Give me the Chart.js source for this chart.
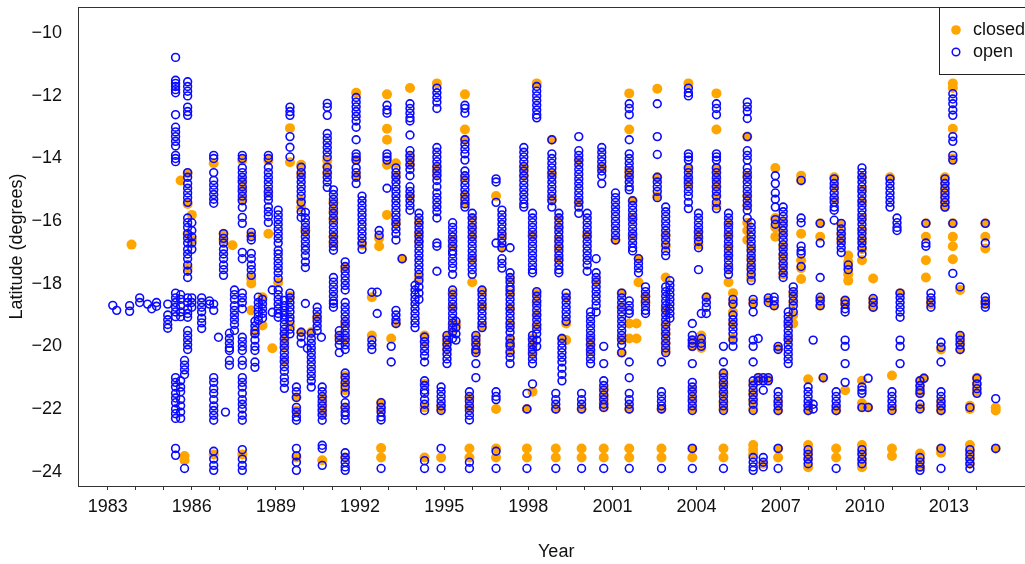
<!DOCTYPE html>
<html lang="en">
<head>
<meta charset="UTF-8">
<title>Latitude by year</title>
<style>
    html, body { margin: 0; padding: 0; background: #fff; overflow: hidden; }
    #wrap { position: relative; width: 1025px; height: 564px; overflow: hidden; }
    canvas { display: block; }
</style>
<script src="https://cdn.jsdelivr.net/npm/chart.js@4/dist/chart.umd.min.js"></script>
</head>
<body>
<div id="wrap"><canvas id="lat-chart" width="1040" height="564"></canvas></div>
<script>
// survey columns (decimal year) and latitudes
const colYear = [
  1983.18, 1983.32, 1983.78, 1983.85, 1984.14, 1984.42, 1984.57, 1984.74, 1985.14, 1985.42,
  1985.6, 1985.74, 1985.85, 1986.0, 1986.35, 1986.63, 1986.78, 1986.95, 1987.13, 1987.2,
  1987.34, 1987.45, 1987.52, 1987.8, 1988.12, 1988.25, 1988.37, 1988.52, 1988.73, 1988.87,
  1989.08, 1989.3, 1989.5, 1989.73, 1989.9, 1990.05, 1990.12, 1990.26, 1990.47, 1990.62,
  1990.65, 1990.83, 1991.05, 1991.26, 1991.47, 1991.86, 1992.07, 1992.42, 1992.61, 1992.68,
  1992.75, 1992.96, 1993.11, 1993.28, 1993.5, 1993.78, 1993.96, 1994.1, 1994.3, 1994.74,
  1994.89, 1995.1, 1995.3, 1995.42, 1995.74, 1995.9, 1996.0, 1996.13, 1996.35, 1996.85,
  1997.06, 1997.35, 1997.84, 1997.95, 1998.15, 1998.3, 1998.84, 1998.98, 1999.09, 1999.2,
  1999.35, 1999.8, 1999.9, 2000.1, 2000.22, 2000.42, 2000.62, 2000.69, 2001.11, 2001.33,
  2001.6, 2001.72, 2001.86, 2001.93, 2002.18, 2002.6, 2002.75, 2002.9, 2003.05, 2003.71,
  2003.85, 2004.07, 2004.17, 2004.35, 2004.71, 2004.96, 2005.14, 2005.3, 2005.81, 2005.95,
  2006.02, 2006.2, 2006.38, 2006.56, 2006.77, 2006.81, 2006.91, 2007.09, 2007.27, 2007.45,
  2007.73, 2007.98, 2008.16, 2008.41, 2008.52, 2008.91, 2008.98, 2009.16, 2009.3, 2009.41,
  2009.9, 2010.12, 2010.3, 2010.9, 2010.97, 2011.15, 2011.26, 2011.97, 2012.11, 2012.18,
  2012.36, 2012.72, 2012.86, 2013.14, 2013.4, 2013.75, 2014.0, 2014.3, 2014.67
];

const openLat = [
  [-18.69], [-18.85], [-18.7, -18.88], [], [-18.45, -18.6], [-18.65], [-18.8], [-18.6, -18.72],
  [-18.65, -19.0, -19.15, -19.3, -19.42],
  [-10.77, -11.5, -11.6, -11.7, -11.8, -11.9, -12.6, -13.0, -13.15, -13.3, -13.45, -13.6, -13.9, -14.0, -14.1, -18.3, -18.45, -18.6, -18.75, -18.9, -19.05, -21.0, -21.15, -21.3, -21.5, -21.65, -21.8, -22.0, -22.15, -22.3, -23.26, -23.48],
  [-18.35, -18.5, -18.7, -18.9, -19.05, -21.1, -21.3, -21.45, -21.7, -21.9, -22.1, -22.3],
  [-20.45, -20.6, -20.75, -20.9, -23.9],
  [-11.55, -11.7, -11.85, -12.0, -12.36, -12.5, -12.62, -14.45, -14.6, -14.8, -14.95, -15.1, -15.25, -15.4, -15.9, -16.05, -16.2, -16.4, -16.55, -16.7, -16.9, -17.05, -17.2, -17.4, -17.6, -17.8, -18.45, -18.6, -18.8, -18.95, -19.07, -19.5, -19.65, -19.8, -19.95, -20.1],
  [-16.05, -16.3, -16.5, -16.7, -16.9, -18.45, -18.6, -18.75],
  [-18.45, -18.6, -18.75, -18.9, -19.1, -19.25, -19.43],
  [-18.55, -18.65],
  [-13.9, -14.0, -14.45, -14.7, -14.85, -15.0, -15.15, -15.3, -15.43, -18.65, -18.85, -21.0, -21.15, -21.35, -21.5, -21.7, -21.9, -22.05, -22.2, -22.36, -23.35, -23.6, -23.8, -23.96],
  [-19.71],
  [-16.4, -16.55, -16.7, -16.9, -17.05, -17.2, -17.4, -17.55, -17.73],
  [-22.1],
  [-19.58, -19.75, -19.9, -20.05, -20.13, -20.45, -20.6],
  [],
  [-18.2, -18.35, -18.5, -18.7, -18.85, -19.0, -19.15, -19.3, -19.49],
  [-13.9, -14.0, -14.3, -14.45, -14.6, -14.75, -14.9, -15.05, -15.2, -15.35, -15.56, -15.88, -16.07, -17.0, -17.2, -18.3, -18.45, -18.6, -18.8, -19.71, -19.85, -20.0, -20.13, -20.45, -20.6, -21.0, -21.15, -21.3, -21.5, -21.7, -21.85, -22.0, -22.2, -22.36, -23.3, -23.6, -23.8, -23.96],
  [-16.36, -16.5, -16.6, -17.03, -17.2, -17.4, -17.55, -17.73],
  [-19.2, -19.35, -19.49, -19.6, -19.8, -20.0, -20.13, -20.5, -20.67],
  [-18.43, -18.6, -18.75, -18.9, -19.05, -19.17],
  [-18.5, -18.65, -18.8, -18.95, -19.1],
  [-13.9, -14.0, -14.28, -14.45, -14.6, -14.75, -14.9, -15.05, -15.2, -15.33, -15.55, -15.7, -15.85, -16.04],
  [-18.2, -18.91],
  [-15.65, -15.8, -15.95, -16.1, -16.25, -16.4, -16.55, -16.7, -16.93, -17.05, -17.2, -17.35, -17.5, -17.65, -17.83, -18.2, -18.35, -18.5, -18.65, -18.8, -18.95, -19.07],
  [-18.53, -18.7, -18.85, -19.0, -19.15, -19.3, -19.45, -19.6, -19.75, -19.9, -20.05, -20.2, -20.35, -20.5, -20.65, -20.8, -21.0, -21.15, -21.34],
  [-12.36, -12.5, -12.62, -13.3, -13.64, -13.95, -18.3, -18.45, -18.6, -18.75, -18.9, -19.07, -19.2, -19.45, -19.6],
  [-21.3, -21.45, -21.63, -21.95, -22.1, -22.25, -22.36, -23.26, -23.5, -23.7, -23.96],
  [-14.28, -14.45, -14.6, -14.75, -14.9, -15.05, -15.2, -15.4, -15.7, -15.88, -19.55, -19.7, -19.9],
  [-15.72, -15.9, -16.05, -16.2, -16.35, -16.5, -16.65, -16.8, -16.93, -17.1, -17.3, -17.48, -18.63],
  [-20.06],
  [-19.58, -19.75, -19.9, -20.05, -20.2, -20.35, -20.5, -20.65, -20.8, -20.95, -21.1, -21.3],
  [-18.75, -18.9, -19.05, -19.2, -19.35, -19.49],
  [-19.71],
  [-21.3, -21.45, -21.6, -21.75, -21.9, -22.05, -22.2, -22.36, -23.16, -23.26, -23.8],
  [-12.24, -12.36, -12.62, -13.2, -13.35, -13.5, -13.65, -13.8, -13.95, -14.28, -14.45, -14.6, -14.75, -14.92],
  [-15.0, -15.15, -15.3, -15.45, -15.6, -15.75, -15.9, -16.05, -16.2, -16.35, -16.5, -16.65, -16.8, -16.93, -17.8, -17.95, -18.1, -18.25, -18.4, -18.55, -18.63, -18.75],
  [-19.5, -19.65, -19.8, -19.95, -20.2],
  [-17.3, -17.45, -17.6, -17.75, -17.9, -18.05, -18.2, -18.6, -18.75, -18.9, -19.05, -19.2, -19.35, -19.5, -19.65, -19.8, -19.95, -20.1, -20.85, -21.0, -21.15, -21.3, -21.5, -21.8, -21.95, -22.1, -22.2, -22.35, -23.4, -23.55, -23.7, -23.85, -23.96],
  [-12.05, -12.2, -12.35, -12.5, -12.65, -12.8, -13.0, -13.4, -13.85, -13.95, -14.05, -14.3, -14.45, -14.6, -14.8],
  [-15.2, -15.35, -15.5, -15.65, -15.8, -15.95, -16.1, -16.25, -16.4, -16.55, -16.7, -16.9],
  [-18.27, -19.8, -19.95, -20.1],
  [-18.27, -18.95],
  [-16.3, -16.45],
  [-21.8, -21.95, -22.1, -22.25, -22.35, -23.9],
  [-12.3, -12.45, -12.55, -13.85, -13.95, -14.05, -14.95],
  [-20.0, -20.5],
  [-14.3, -14.45, -14.6, -14.75, -14.9, -15.05, -15.2, -15.35, -15.5, -15.65, -15.8, -15.95, -16.1, -16.25, -16.4, -16.6, -18.85, -19.0, -19.15, -19.27],
  [-17.2],
  [-12.25, -12.4, -12.55, -12.7, -12.8, -13.25, -13.75, -13.9, -14.05, -14.2, -14.35, -14.55, -14.9, -15.05, -15.2, -15.35, -15.5, -15.65],
  [-18.05, -18.2, -18.35, -18.5, -18.65, -18.8, -18.95, -19.1, -19.25, -19.4],
  [-15.75, -15.9, -16.05, -16.2, -16.35, -16.5, -16.65, -16.8, -16.95, -17.1, -17.25, -17.4, -17.55, -17.7, -17.9, -18.1, -18.3, -18.5],
  [-19.7, -19.85, -20.0, -20.15, -20.3, -20.5, -21.1, -21.25, -21.4, -21.5, -21.7, -21.85, -22.05, -23.65, -23.9],
  [-11.75, -11.9, -12.05, -12.2, -12.4, -13.65, -13.8, -13.95, -14.1, -14.25, -14.4, -14.55, -14.7, -14.9, -15.1, -15.25, -15.4, -15.55, -15.7, -15.9, -16.7, -16.8, -17.6],
  [-21.3, -21.45, -21.6, -21.75, -21.9, -22.05, -23.26, -23.9],
  [-19.65, -19.8, -19.95, -20.1, -20.25, -20.4, -20.55],
  [-16.05, -16.2, -16.35, -16.5, -16.65, -16.8, -16.95, -17.05, -17.2, -17.35, -17.5, -17.7, -18.2, -18.35, -18.5, -18.65, -18.8, -18.95, -19.1, -19.25, -19.4, -19.55, -19.75],
  [-19.2, -19.4, -19.6, -19.8],
  [-12.3, -12.4, -12.55, -13.4, -13.55, -13.7, -13.85, -14.05, -14.4, -14.55, -14.7, -14.85, -15.0, -15.15, -15.3, -15.45, -15.55],
  [-21.45, -21.6, -21.75, -21.9, -22.05, -22.2, -22.35, -23.7, -23.9],
  [-15.75, -15.9, -16.05, -16.2, -16.35, -16.5, -16.65, -16.8, -16.95, -17.1, -17.25, -17.4, -17.55, -17.7],
  [-19.65, -19.8, -19.95, -20.1, -20.2, -20.55, -21.0],
  [-18.2, -18.35, -18.5, -18.65, -18.8, -18.95, -19.1, -19.25, -19.4],
  [-14.65, -14.75, -15.4, -16.7, -21.45, -21.6, -21.7, -23.35, -23.9],
  [-15.65, -15.8, -15.95, -16.1, -16.25, -16.4, -16.55, -16.7, -16.85, -17.2, -17.35, -17.5],
  [-16.85, -17.65, -17.8, -17.95, -18.1, -18.2, -18.35, -18.5, -18.65, -18.8, -18.95, -19.1, -19.25, -19.4, -19.55, -19.75, -19.9, -20.0, -20.2, -20.35, -20.55],
  [-13.65, -13.8, -13.95, -14.1, -14.25, -14.4, -14.55, -14.7, -14.85, -15.0, -15.15, -15.3, -15.45, -15.55],
  [-21.5, -22.0, -23.9],
  [-15.75, -15.9, -16.05, -16.2, -16.35, -16.5, -16.65, -16.8, -16.95, -17.1, -17.25, -17.4, -17.55, -17.65, -19.65, -19.8, -19.95, -20.1, -20.25, -20.4, -20.55, -21.2],
  [-11.7, -11.85, -12.0, -12.15, -12.3, -12.45, -12.6, -12.7, -18.25, -18.4, -18.55, -18.7, -18.85, -19.0, -19.15, -19.3, -19.45, -19.6, -19.8, -20.0],
  [-13.4, -13.85, -14.0, -14.15, -14.3, -14.45, -14.6, -14.75, -14.9, -15.05, -15.2, -15.35, -15.55],
  [-21.5, -21.7, -21.85, -22.0, -23.9],
  [-15.75, -15.9, -16.05, -16.2, -16.35, -16.5, -16.65, -16.8, -16.95, -17.1, -17.25, -17.4, -17.55, -17.65],
  [-19.75, -19.9, -20.05, -20.2, -20.35, -20.5, -20.7, -20.9, -21.1],
  [-18.3, -18.45, -18.6, -18.75, -18.9, -19.05, -19.2],
  [-13.3, -13.75, -13.9, -14.05, -14.2, -14.35, -14.5, -14.65, -14.8, -14.95, -15.1, -15.25, -15.4, -15.55, -15.75],
  [-21.5, -21.7, -21.85, -22.0, -23.9],
  [-15.75, -15.9, -16.05, -16.2, -16.35, -16.5, -16.65, -16.8, -16.95, -17.1, -17.25, -17.4, -17.6],
  [-18.9, -19.05, -19.2, -19.35, -19.5, -19.65, -19.8, -19.95, -20.1, -20.25, -20.4, -20.55],
  [-17.2, -17.65, -17.8, -17.95, -18.1, -18.25, -18.4, -18.55, -18.7, -18.9],
  [-13.65, -13.8, -13.95, -14.1, -14.25, -14.4, -14.55, -14.8],
  [-20.0, -20.55, -21.1, -21.25, -21.4, -21.55, -21.7, -21.85, -21.95, -23.9],
  [-15.1, -15.25, -15.4, -15.55, -15.7, -15.85, -16.0, -16.15, -16.3, -16.45, -16.6],
  [-18.3, -18.45, -18.6, -18.75, -18.9, -19.05, -19.2, -19.35, -19.5, -19.65, -19.8, -19.95, -20.2],
  [-12.25, -12.4, -12.6, -13.4, -13.85, -14.0, -14.15, -14.3, -14.45, -14.6, -14.75, -14.9, -15.0, -18.55, -18.7, -18.85, -18.95, -20.5, -21.0, -21.5, -21.7, -21.85, -22.0, -23.9],
  [-15.35, -15.5, -15.65, -15.8, -15.95, -16.1, -16.25, -16.4, -16.55, -16.7, -16.85, -16.95],
  [],
  [-17.2, -17.35, -17.5, -17.65],
  [-18.1, -18.25, -18.4, -18.55, -18.7, -18.85, -18.95],
  [-12.25, -13.3, -13.87, -14.6, -14.75, -14.9, -15.05, -15.25],
  [-20.5, -21.45, -21.6, -21.75, -21.9, -22.0, -23.9],
  [-15.55, -15.7, -15.85, -16.0, -16.15, -16.3, -16.45, -16.6, -16.75, -16.95, -17.1, -18.1, -18.25, -18.4, -18.55, -18.7, -18.85, -19.0, -19.15, -19.3, -19.45, -19.6, -19.75, -19.9, -20.05, -20.2],
  [-17.9, -18.05, -18.2, -18.35, -18.5, -18.65, -18.8, -18.95, -19.1],
  [-11.75, -11.9, -12.0, -13.85, -13.95, -14.05, -14.3, -14.45, -14.6, -14.75, -14.9, -15.05, -15.2, -15.4, -15.6],
  [-19.27, -19.65, -19.8, -19.9, -20.0, -20.55, -21.15, -21.3, -21.45, -21.6, -21.75, -21.9, -22.05, -23.26, -23.9],
  [-15.75, -15.9, -16.05, -16.2, -16.35, -16.5, -16.65, -16.85, -17.55],
  [-18.95, -19.75, -19.9, -20.0],
  [-18.43, -18.6, -18.75, -18.95],
  [-12.25, -12.4, -12.6, -13.85, -13.95, -14.05, -14.3, -14.45, -14.6, -14.75, -14.9, -15.05, -15.2, -15.4, -15.6],
  [-20.0, -20.5, -20.85, -21.0, -21.15, -21.3, -21.45, -21.6, -21.75, -21.9, -22.05, -23.9],
  [-15.75, -15.9, -16.05, -16.2, -16.35, -16.5, -16.65, -16.8, -16.95, -17.1, -17.25, -17.4, -17.55, -17.7],
  [-18.5, -18.65, -19.0, -19.15, -19.3, -19.45, -19.6, -19.8, -20.0],
  [-12.2, -12.35, -12.5, -12.72, -13.3, -13.75, -13.9, -14.05, -14.3, -14.45, -14.6, -14.75, -14.9, -15.05, -15.2, -15.35, -15.5, -15.65, -15.9],
  [-16.05, -16.2, -16.35, -16.5, -16.65, -16.8, -16.95, -17.1, -17.25, -17.4, -17.55, -17.7, -17.9],
  [-18.5, -18.65, -18.9, -19.8, -20.0, -20.5, -21.1, -21.25, -21.4, -21.55, -21.7, -21.85, -22.05, -23.55, -23.7, -23.85, -23.96],
  [-19.75, -21.0, -21.1],
  [-21.0, -21.1, -21.4, -23.55, -23.7, -23.85],
  [-18.45, -18.6, -21.0, -21.1],
  [-18.43, -18.55, -18.7],
  [-14.55, -14.8, -15.1, -15.3, -15.55, -15.95, -16.1],
  [-20.0, -20.1, -21.45, -21.6, -21.75, -21.9, -22.05, -23.26, -23.9],
  [-15.55, -15.7, -15.85, -16.0, -16.15, -16.3, -16.45, -16.6, -16.75, -16.9, -17.05, -17.2, -17.35, -17.5, -17.65, -17.8],
  [-18.9, -19.05, -19.2, -19.35, -19.5, -19.65, -19.8, -19.95, -20.1, -20.25, -20.4, -20.55],
  [-18.1, -18.25, -18.4, -18.55, -18.7, -18.9],
  [-14.7, -15.9, -16.05, -16.8, -16.95, -17.05, -17.45],
  [-21.3, -21.45, -21.6, -21.75, -21.9, -22.05, -23.3, -23.45, -23.6, -23.75],
  [-19.8, -21.85, -22.0],
  [-16.07, -16.7, -17.8, -18.43, -18.55, -18.7],
  [-21.0],
  [-14.65, -14.8, -14.95, -15.1, -15.25, -15.4, -15.55, -15.65, -15.97],
  [-21.45, -21.6, -21.75, -21.9, -22.05, -23.9],
  [-16.07, -16.25, -16.4, -16.55, -16.7, -16.85, -17.0],
  [-18.53, -18.65, -18.8, -18.9, -19.8, -20.0, -20.55, -21.15],
  [-17.4, -17.55],
  [-14.3, -14.45, -14.6, -14.75, -14.9, -15.05, -15.2, -15.35, -15.5, -15.65, -15.8, -15.95, -16.1, -16.25, -16.4, -16.55, -16.7, -16.85, -17.05, -21.3, -21.4, -21.5, -21.95, -23.3, -23.45, -23.6, -23.75],
  [-21.02, -21.95],
  [-18.47, -18.6, -18.75],
  [-14.65, -14.8, -14.95, -15.1, -15.25, -15.4, -15.55],
  [-21.45, -21.6, -21.75, -21.9, -22.05],
  [-15.9, -16.05, -16.2, -16.3],
  [-18.3, -18.45, -18.6, -18.75, -18.9, -19.07, -19.8, -20.0, -20.55],
  [-21.1, -21.25, -21.4, -21.5, -21.85, -22.0, -23.55, -23.7, -23.85, -23.96],
  [-21.02],
  [-16.07, -16.7, -16.8],
  [-18.3, -18.45, -18.6, -18.75],
  [-19.87, -20.03, -20.5, -21.45, -21.6, -21.75, -21.9, -22.05, -23.26, -23.9],
  [-14.65, -14.8, -14.95, -15.1, -15.25, -15.4, -15.55],
  [-11.93, -12.1, -12.25, -12.45, -12.62, -13.3, -13.45, -13.9, -14.05, -16.07, -17.67],
  [-18.1, -19.65, -19.8, -19.95, -20.1],
  [-21.95, -23.3, -23.45, -23.6, -23.75, -23.9],
  [-21.02, -21.2, -21.35, -21.5],
  [-16.07, -16.7, -18.43, -18.55, -18.65, -18.75],
  [-21.67, -23.26]
];

const closedLat = [
  [], [], [], [-16.75], [], [], [], [], [],
  [],
  [-14.7],
  [-23.5, -23.64],
  [-14.47, -15.45, -16.4, -17.5],
  [-15.8, -16.6],
  [], [],
  [-14.15, -23.45],
  [],
  [-16.4, -16.6],
  [], [],
  [-16.77],
  [],
  [-14.06, -14.7, -15.0, -15.3, -23.45],
  [-16.45, -17.83, -17.99, -18.85],
  [-19.58],
  [],
  [-18.43, -19.33],
  [-14.06, -15.1, -16.4],
  [-20.06],
  [-17.96],
  [-19.58, -19.8, -20.0, -20.45],
  [-13.03, -14.12, -18.4, -19.33],
  [-21.63, -22.05, -23.55],
  [-14.2, -14.5, -15.35, -15.56, -19.55],
  [-16.3],
  [],
  [-19.55],
  [-19.1],
  [],
  [-21.63, -21.85, -22.0, -22.15, -23.64],
  [-14.06, -14.25, -14.47],
  [-15.4, -15.7, -15.95, -16.5, -16.7],
  [-19.7],
  [-17.5, -19.27, -19.75, -20.95, -21.2, -21.4, -21.95, -23.55],
  [-11.9, -14.05, -14.55],
  [-16.75],
  [-18.43, -19.65],
  [],
  [-16.55, -16.8],
  [-21.8, -22.0, -23.25, -23.55],
  [-11.95, -13.05, -13.4, -14.2, -15.8],
  [-19.75],
  [-14.15, -14.55, -16.05, -19.27],
  [-17.2],
  [-11.75, -13.95, -14.2, -15.2],
  [],
  [-16.05, -16.4, -16.65, -17.8],
  [-19.65, -19.85, -21.2, -21.95, -23.55],
  [-11.6, -14.3, -14.5],
  [-21.9, -22.0, -23.55],
  [-19.7, -19.9, -20.1],
  [-16.6, -16.8, -18.3, -18.75, -19.3, -19.45],
  [-19.3],
  [-11.95, -13.07, -13.4, -14.6, -15.2, -15.4],
  [-21.65, -21.95, -23.26, -23.55],
  [-15.9, -16.2, -16.5, -17.2, -17.95],
  [-19.7, -19.9, -20.15],
  [-18.25, -18.7, -19.35],
  [-15.2, -22.0, -23.26, -23.55],
  [-16.45, -16.85],
  [-17.85, -18.3, -18.8, -19.3, -19.75, -19.95, -20.15],
  [-14.3, -14.55],
  [-22.0, -23.26, -23.55],
  [-16.45, -19.75, -20.0, -20.2, -21.45],
  [-11.6, -18.3, -18.6, -19.0, -19.35],
  [-13.4, -14.5, -15.3],
  [-22.0, -23.26, -23.55],
  [-15.9, -16.2, -16.6, -16.85, -17.2],
  [-19.75],
  [-18.43, -19.27, -19.8],
  [-14.05, -15.4],
  [-22.0, -23.26, -23.55],
  [-16.45],
  [-19.75, -19.95, -20.15],
  [-17.9],
  [-14.3],
  [-21.35, -21.6, -21.8, -21.95, -23.26, -23.55],
  [-16.6],
  [-18.3, -18.75, -19.75, -20.2],
  [-11.92, -13.07, -14.4, -14.55, -19.27, -19.75, -22.0, -23.26, -23.55],
  [-15.35, -15.9, -16.45],
  [-19.27, -19.75],
  [-17.2, -17.95],
  [-18.4, -18.6],
  [-11.77, -14.6, -15.2],
  [-22.0, -23.26, -23.55],
  [-16.45, -16.8, -17.8, -18.8, -19.3, -19.6, -19.9, -20.15],
  [],
  [-11.6, -14.3, -14.65, -14.8],
  [-19.8, -20.0, -21.4, -21.7, -22.0, -23.26, -23.55],
  [-16.35, -16.55, -16.75],
  [-19.65, -19.85, -20.05],
  [-18.43],
  [-11.92, -13.07, -14.3, -14.45, -14.65, -14.9, -15.2, -15.5],
  [-20.9, -21.2, -21.5, -21.8, -22.0, -23.26, -23.55],
  [-16.1, -16.45, -16.8, -17.1, -17.5, -17.95],
  [-18.3, -18.6, -18.9, -19.27, -19.75],
  [-13.3, -14.55, -15.2, -15.5, -16.05, -16.3, -16.6],
  [-16.9, -17.2, -17.5, -17.8],
  [-18.6, -21.2, -21.5, -21.75, -22.0, -23.15, -23.3, -23.45],
  [-21.0],
  [-21.05, -23.75],
  [-18.53, -21.05],
  [-18.7],
  [-14.3, -15.9, -16.2, -16.5],
  [-20.07, -21.8, -22.05, -23.26, -23.55],
  [-16.05, -16.4, -16.8, -17.1, -17.4, -17.7],
  [-19.27, -19.75],
  [-18.3, -18.6, -19.0, -19.27],
  [-14.55, -14.7, -16.4, -17.25, -17.5, -17.85],
  [-21.05, -21.9, -22.05, -23.15, -23.4, -23.6, -23.86],
  [],
  [-16.07, -16.5, -18.5, -18.7],
  [-21.0],
  [-14.6, -14.9, -15.3],
  [-21.95, -22.05, -23.26, -23.55],
  [-16.1, -16.4, -16.6],
  [-18.53, -18.65, -21.4],
  [-17.1, -17.3, -17.5, -17.7, -17.9],
  [-14.6, -15.0, -15.4, -15.9, -16.3, -16.6, -16.9, -17.25, -21.1, -21.82, -21.95, -23.15, -23.4, -23.65, -23.86],
  [-21.95],
  [-17.83, -18.5, -18.65, -18.75],
  [-14.6],
  [-20.93, -22.0, -23.26, -23.5],
  [],
  [-18.3],
  [-21.1, -21.3, -21.5, -21.95, -23.42, -23.6, -23.86],
  [-21.02],
  [-16.07, -16.5, -17.25, -17.8],
  [-18.55, -18.65],
  [-20.1, -21.8, -21.95, -22.05, -23.26, -23.4],
  [-14.6, -14.8, -15.0, -15.2, -15.4, -15.55],
  [-11.6, -11.75, -13.05, -14.0, -16.07, -16.5, -16.8, -17.22],
  [-18.2, -19.7, -19.9, -20.1],
  [-21.9, -22.0, -23.15, -23.35, -23.55, -23.75],
  [-21.0, -21.2, -21.45],
  [-16.07, -16.5, -16.87, -18.6],
  [-21.95, -22.05, -23.26]
];

const xTickYears = [];
for (let y = 1983; y <= 2014; y++) xTickYears.push(y);
const yTickValues = [-10, -12, -14, -16, -18, -20, -22, -24];

const seriesNames = ['closed', 'open'];
const orange = '#ffa500';
const blue = '#0a0aff';
const fontFamily = "'Liberation Sans', Arial, sans-serif";

function toPoints(lists) {
    const pts = [];
    lists.forEach((lats, i) => {
        lats.forEach(lat => pts.push({ x: colYear[i], y: lat }));
    });
    return pts;
}

// frame round the plot + boxed legend in the top right corner
const framePlugin = {
    id: 'frame',
    afterDraw(chart) {
        const ctx = chart.ctx;
        const a = chart.chartArea;
        ctx.save();
        ctx.strokeStyle = '#333';
        ctx.lineWidth = 1;
        ctx.strokeRect(a.left + 0.5, a.top + 0.5, a.right - a.left, a.bottom - a.top);

        const bx = 939.5, by = a.top + 0.5, bw = 98, bh = 67;
        ctx.fillStyle = '#fff';
        ctx.fillRect(bx, by, bw, bh);
        ctx.strokeStyle = '#222';
        ctx.strokeRect(bx, by, bw, bh);

        ctx.font = '18px ' + fontFamily;
        ctx.textBaseline = 'middle';

        ctx.beginPath();
        ctx.arc(956, 30, 4.8, 0, Math.PI * 2);
        ctx.fillStyle = orange;
        ctx.fill();
        ctx.fillStyle = '#111';
        ctx.fillText(seriesNames[0], 973, 30);

        ctx.beginPath();
        ctx.arc(956, 52, 3.8, 0, Math.PI * 2);
        ctx.strokeStyle = blue;
        ctx.lineWidth = 1.5;
        ctx.stroke();
        ctx.fillText(seriesNames[1], 973, 52);
        ctx.restore();
    }
};

window.onload = function() {
    const ctx = document.getElementById('lat-chart').getContext('2d');
    new Chart(ctx, {
        type: 'scatter',
        data: {
            datasets: [{
                label: seriesNames[0],
                data: toPoints(closedLat),
                backgroundColor: orange,
                borderColor: orange,
                borderWidth: 0,
                pointRadius: 5,
                order: 1
            }, {
                label: seriesNames[1],
                data: toPoints(openLat),
                backgroundColor: 'rgba(0,0,0,0)',
                borderColor: blue,
                borderWidth: 1.6,
                pointRadius: 3.9,
                order: 0
            }]
        },
        options: {
            responsive: false,
            animation: false,
            events: [],
            layout: { padding: { top: 7, right: 2, left: 0, bottom: 0 } },
            plugins: {
                legend: { display: false },
                tooltip: { enabled: false }
            },
            scales: {
                x: {
                    type: 'linear',
                    min: 1981.94,
                    max: 2016.05,
                    afterBuildTicks: s => { s.ticks = xTickYears.map(v => ({ value: v })); },
                    afterFit: s => { s.height = 78; s.paddingLeft = 0; s.paddingRight = 0; },
                    grid: {
                        display: true,
                        drawOnChartArea: false,
                        drawTicks: true,
                        tickLength: 4,
                        color: '#333'
                    },
                    border: { display: true, color: '#333', width: 1 },
                    ticks: {
                        autoSkip: false,
                        maxRotation: 0,
                        padding: 6,
                        color: '#111',
                        font: { family: fontFamily, size: 18 },
                        callback: v => ((v - 1983) % 3 === 0 ? String(v) : '')
                    },
                    title: {
                        display: true,
                        text: 'Year',
                        color: '#111',
                        font: { family: fontFamily, size: 18 },
                        padding: { top: 0, bottom: 1 }
                    }
                },
                y: {
                    type: 'linear',
                    min: -24.46,
                    max: -9.16,
                    afterBuildTicks: s => { s.ticks = yTickValues.map(v => ({ value: v })); },
                    afterFit: s => { s.width = 78; s.paddingTop = 0; s.paddingBottom = 0; },
                    grid: { display: false },
                    border: { display: true, color: '#333', width: 1 },
                    ticks: {
                        padding: 8,
                        color: '#111',
                        font: { family: fontFamily, size: 18 },
                        callback: v => '\u2212' + Math.abs(v)
                    },
                    title: {
                        display: true,
                        text: 'Latitude (degrees)',
                        color: '#111',
                        font: { family: fontFamily, size: 18 },
                        padding: { top: 6, bottom: 0 }
                    }
                }
            }
        },
        plugins: [framePlugin]
    });
};
</script>
</body>
</html>
